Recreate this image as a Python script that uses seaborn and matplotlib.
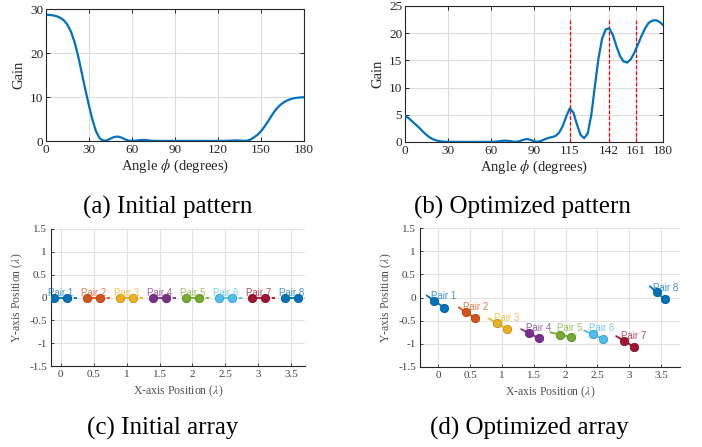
import numpy as np
import pandas as pd
import matplotlib
matplotlib.use("Agg")
import matplotlib.pyplot as plt
import seaborn as sns

# ---------------- data ----------------
angle_a = [0, 2.5, 5, 7.5, 10, 12.5, 15, 17.5, 20, 22.5, 25, 27.5, 30, 32.5, 35, 37.5,
           40, 42.5, 45, 47.5, 50, 52.5, 55, 57.5, 60, 62.5, 65, 67.5, 70, 72.5, 75,
           80, 90, 100, 110, 120, 125, 127.5, 130, 132.5, 135, 137.5, 140, 142.5, 145,
           147.5, 150, 152.5, 155, 157.5, 160, 162.5, 165, 167.5, 170, 172.5, 175, 177.5, 180]
gain_initial = [28.7, 28.65, 28.55, 28.35, 28.0, 27.4, 26.4, 24.8, 22.4, 19.2, 15.4, 11.6,
                8.0, 4.7, 2.1, 0.6, 0.05, 0.15, 0.55, 0.9, 1.0, 0.8, 0.4, 0.1, 0.02, 0.08,
                0.18, 0.24, 0.2, 0.1, 0.03, 0.02, 0.02, 0.02, 0.02, 0.02, 0.03, 0.06, 0.1,
                0.12, 0.1, 0.04, 0.05, 0.3, 0.8, 1.4, 2.2, 3.3, 4.5, 5.8, 7.0, 7.9, 8.6,
                9.1, 9.45, 9.7, 9.82, 9.9, 9.95]

angle_b = [0, 2.5, 5, 7.5, 10, 12.5, 15, 17.5, 20, 22.5, 25, 27.5, 30, 40, 50, 60, 65,
           67.5, 70, 72.5, 75, 77.5, 80, 82.5, 85, 87.5, 90, 92.5, 95, 97.5, 100, 102.5,
           105, 107.5, 110, 112.5, 115, 117.5, 120, 122.5, 125, 127.5, 130, 132.5, 135,
           137.5, 140, 142.5, 145, 147.5, 150, 152.5, 155, 157.5, 160, 162.5, 165, 167.5,
           170, 172.5, 175, 177.5, 180]
gain_optimized = [4.8, 4.4, 3.8, 3.2, 2.6, 1.9, 1.3, 0.8, 0.45, 0.25, 0.12, 0.06, 0.03,
                  0.02, 0.02, 0.03, 0.1, 0.2, 0.25, 0.2, 0.08, 0.03, 0.15, 0.4, 0.55, 0.4,
                  0.12, 0.05, 0.2, 0.5, 0.75, 0.9, 1.1, 1.7, 2.9, 4.7, 6.2, 5.4, 3.2, 1.3,
                  0.7, 1.6, 5.0, 10.3, 15.4, 19.0, 20.7, 20.9, 19.7, 17.6, 15.8, 14.8, 14.6,
                  15.2, 16.4, 17.9, 19.5, 20.9, 21.9, 22.3, 22.4, 22.1, 21.5]
target_angles = [115, 142, 161]

pair_names = ["Pair 1", "Pair 2", "Pair 3", "Pair 4", "Pair 5", "Pair 6", "Pair 7", "Pair 8"]
pair_colors = ["#0072BD", "#D95319", "#EDB120", "#7E2F8E", "#77AC30", "#4DBEEE", "#A2142F", "#0072BD"]

init_xa = [-0.1, 0.4, 0.9, 1.4, 1.9, 2.4, 2.9, 3.4]
init_ya = [0, 0, 0, 0, 0, 0, 0, 0]
init_xb = [0.1, 0.6, 1.1, 1.6, 2.1, 2.6, 3.1, 3.6]
init_yb = [0, 0, 0, 0, 0, 0, 0, 0]

opt_xa = [-0.063, 0.435, 0.923, 1.427, 1.91, 2.424, 2.922, 3.431]
opt_ya = [-0.072, -0.317, -0.555, -0.771, -0.80, -0.793, -0.937, 0.115]
opt_xb = [0.089, 0.582, 1.081, 1.584, 2.093, 2.587, 3.08, 3.562]
opt_yb = [-0.216, -0.447, -0.678, -0.88, -0.858, -0.894, -1.067, -0.043]

array_ticks_x = [0, 0.5, 1, 1.5, 2, 2.5, 3, 3.5]
array_ticks_y = [-1.5, -1, -0.5, 0, 0.5, 1, 1.5]
array_ticklabels_y = ["-1.5", "-1", "-0.5", "0", "0.5", "1", "1.5"]
array_ticklabels_x = ["0", "0.5", "1", "1.5", "2", "2.5", "3", "3.5"]

captions = ["(a) Initial pattern", "(b) Optimized pattern", "(c) Initial array", "(d) Optimized array"]

# ---------------- style ----------------
sns.set_theme(style="white")
plt.rcParams["font.family"] = ["Liberation Serif", "DejaVu Serif"]
plt.rcParams["mathtext.fontset"] = "stix"
plt.rcParams["axes.unicode_minus"] = False

W, H = 702, 447
fig = plt.figure(figsize=(W / 100, H / 100), dpi=100)

def add_ax(left, right, top, bottom):
    return fig.add_axes([left / W, 1 - bottom / H, (right - left) / W, (bottom - top) / H])

blue = "#0072BD"

def style_pattern(ax, xticks, yticks):
    ax.set_xticks(xticks)
    ax.set_yticks(yticks)
    ax.grid(True, color="#dcdcdc", linewidth=0.8)
    ax.set_axisbelow(True)
    for s in ax.spines.values():
        s.set_color("#262626")
        s.set_linewidth(0.8)
        s.set_visible(True)
    ax.tick_params(direction="in", length=3, width=0.7, top=True, right=True,
                   bottom=True, left=True, labelsize=9.5, colors="#262626", pad=2)
    ax.set_ylabel("Gain", fontsize=10.5, color="#262626", labelpad=3)
    ax.set_xlabel(r"Angle $\phi$ (degrees)", fontsize=10.5, color="#262626", labelpad=1)

# (a)
ax_a = add_ax(46, 304, 9, 141)
df_a = pd.DataFrame({"angle": angle_a, "gain": gain_initial})
sns.lineplot(data=df_a, x="angle", y="gain", ax=ax_a, color=blue, linewidth=1.6)
ax_a.set_xlim(0, 180)
ax_a.set_ylim(0, 30)
style_pattern(ax_a, [0, 30, 60, 90, 120, 150, 180], [0, 10, 20, 30])

# (b)
ax_b = add_ax(405, 663, 6, 142)
df_b = pd.DataFrame({"angle": angle_b, "gain": gain_optimized})
for t in target_angles:
    ax_b.plot([t, t], [0, 22.5], color="#FF0000", linestyle=(0, (3, 1.5)), linewidth=0.9, zorder=2)
sns.lineplot(data=df_b, x="angle", y="gain", ax=ax_b, color=blue, linewidth=1.6, zorder=3)
ax_b.set_xlim(0, 180)
ax_b.set_ylim(0, 25)
style_pattern(ax_b, [0, 30, 60, 90, 115, 142, 161, 180], [0, 5, 10, 15, 20, 25])

# arrays
def style_array(ax, xlim):
    ax.set_xlim(*xlim)
    ax.set_ylim(-1.5, 1.5)
    ax.set_xticks(array_ticks_x)
    ax.set_xticklabels(array_ticklabels_x)
    ax.set_yticks(array_ticks_y)
    ax.set_yticklabels(array_ticklabels_y)
    ax.grid(True, color="#e2e2e2", linewidth=0.8)
    ax.set_axisbelow(True)
    ax.spines["top"].set_visible(False)
    ax.spines["right"].set_visible(False)
    for s in ["left", "bottom"]:
        ax.spines[s].set_color("#262626")
        ax.spines[s].set_linewidth(0.8)
        ax.spines[s].set_visible(True)
    ax.tick_params(direction="in", length=2.5, width=0.6, bottom=True, left=True,
                   labelsize=8, labelcolor="#404040", color="#262626", pad=3)
    ax.set_xlabel(r"X-axis Position ($\lambda$)", fontsize=8.5, color="#505050", labelpad=3)
    ax.set_ylabel(r"Y-axis Position ($\lambda$)", fontsize=8.5, color="#505050", labelpad=3)

def darker(c, f=0.8):
    r, g, b = matplotlib.colors.to_rgb(c)
    return (r * f, g * f, b * f)

def draw_array(ax, xa, ya, xb, yb, ext_before, ext_after, dx, dy):
    for i in range(len(pair_names)):
        c = pair_colors[i]
        vx, vy = xb[i] - xa[i], yb[i] - ya[i]
        if ext_after:
            ax.plot([xb[i], xb[i] + ext_after * vx], [yb[i], yb[i] + ext_after * vy],
                    color=c, linewidth=1.3, linestyle=(0, (2.5, 1.2)), zorder=2)
        if ext_before:
            ax.plot([xa[i] - ext_before * vx, xa[i]], [ya[i] - ext_before * vy, ya[i]],
                    color=c, linewidth=1.3, zorder=2)
        dfp = pd.DataFrame({"x": [xa[i], xb[i]], "y": [ya[i], yb[i]]})
        sns.lineplot(data=dfp, x="x", y="y", ax=ax, color=c, linewidth=1.3, sort=False,
                     marker="o", markersize=6, markeredgecolor=darker(c), markeredgewidth=0.6,
                     zorder=3)
        cx = (xa[i] + xb[i]) / 2 + dx
        cy = (ya[i] + yb[i]) / 2 + dy
        ax.text(cx, cy, pair_names[i], color=c, alpha=0.75, fontsize=7, ha="center", va="bottom",
                family=["Liberation Sans", "DejaVu Sans"], zorder=4)
    ax.set_xlabel("")
    ax.set_ylabel("")

ax_c = add_ax(51, 305, 229, 366)
draw_array(ax_c, init_xa, init_ya, init_xb, init_yb, 0, 0.75, 0.0, 0.0)
style_array(ax_c, (-0.15, 3.71))

ax_d = add_ax(420, 680, 228, 367)
draw_array(ax_d, opt_xa, opt_ya, opt_xb, opt_yb, 0.8, 0, 0.07, 0.07)
style_array(ax_d, (-0.29, 3.8))

# captions
cap_pos = [(168, 207), (522, 207), (163, 428), (529, 428)]
for txt, (px, py) in zip(captions, cap_pos):
    fig.text(px / W, 1 - py / H, txt, fontsize=18, ha="center", va="center", color="black")

fig.savefig("out.png", dpi=100)
